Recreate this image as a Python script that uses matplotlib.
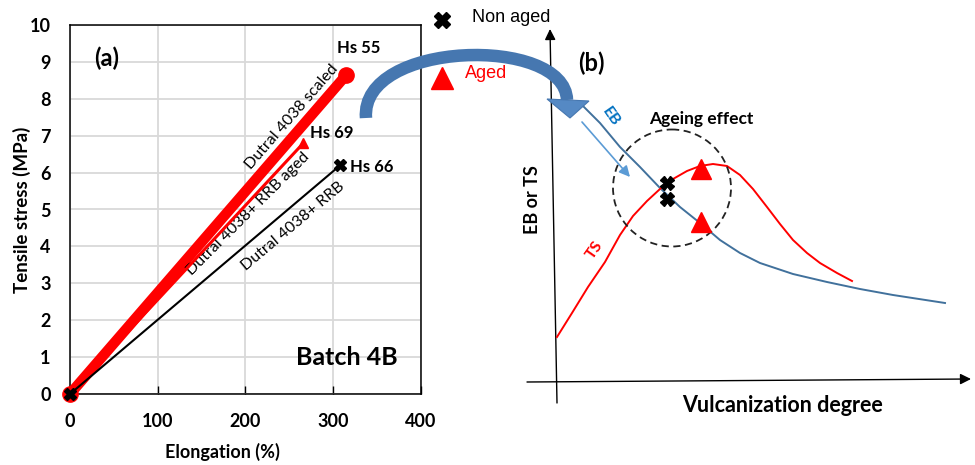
import matplotlib.pyplot as plt
from matplotlib.patches import Ellipse, PathPatch, Polygon
from matplotlib.path import Path

# panel (a): elongation (%) vs tensile stress (MPa)
scaled_x = [0, 315]
scaled_y = [0, 8.65]
rrb_aged_x = [0, 266]
rrb_aged_y = [0, 6.8]
rrb_x = [0, 308]
rrb_y = [0, 6.2]

hs_labels = ['Hs 55', 'Hs 69', 'Hs 66']
hs_x = [304, 273, 319]
hs_y = [9.38, 7.07, 6.15]

x_ticks = [0, 100, 200, 300, 400]
y_ticks = list(range(11))

# panel (b): schematic, read in picture pixels
eb_x = [580, 600, 620, 640, 660, 680, 700, 720, 740, 760, 793, 827, 860,
        893, 945]
eb_y = [103, 123, 147, 167, 188, 207, 223, 240, 253, 263, 274, 282, 289,
        295, 303]
ts_x = [557, 572, 588, 605, 620, 633, 647, 660, 673, 687, 700, 713, 727,
        740, 753, 767, 780, 793, 807, 820, 837, 852]
ts_y = [337, 313, 287, 262, 235, 216, 201, 189, 179, 171, 166, 164, 166,
        175, 189, 207, 224, 240, 253, 263, 273, 281]
non_aged_x = [667, 667]
non_aged_y = [183, 199]
aged_x = [701, 701]
aged_y = [169, 222]

CAL = 'Lato'
ARL = 'Liberation Sans'
BLUE = '#41719c'
RED = '#ff0000'

fig = plt.figure(figsize=(9.75, 4.65), dpi=100)

# ---------- panel (a)
ax = fig.add_axes([70 / 975, 71 / 465, 351 / 975, 369 / 465])
ax.plot(scaled_x, scaled_y, color=RED, lw=7.5, marker='o', ms=11,
        solid_capstyle='butt', zorder=3, clip_on=False)
ax.plot(rrb_aged_x, rrb_aged_y, color=RED, lw=2.2, marker='^', ms=7,
        zorder=4, clip_on=False)
ax.plot(rrb_x, rrb_y, color='black', lw=1.5, marker='X', ms=8,
        zorder=5, clip_on=False)

ax.set_xlim(0, 400)
ax.set_ylim(0, 10)
ax.set_xticks(x_ticks)
ax.set_yticks(y_ticks)
ax.grid(True, color='#d9d9d9', lw=1.3)
ax.set_axisbelow(True)
ax.tick_params(axis='x', direction='in', length=6, width=1, pad=14)
ax.tick_params(axis='y', length=0, pad=14)
for lab in ax.get_xticklabels() + ax.get_yticklabels():
    lab.set_fontfamily(CAL)
    lab.set_fontweight('bold')
    lab.set_fontsize(13)
for sp in ax.spines.values():
    sp.set_linewidth(1.1)
ax.set_xlabel('Elongation (%)', family=CAL, weight='bold', fontsize=13)
ax.set_ylabel('Tensile stress (MPa)', family=CAL, weight='bold',
              fontsize=13.5)
ax.xaxis.set_label_coords((222 - 70) / 351, (394 - 452) / 369)
ax.yaxis.set_label_coords((22 - 70) / 351, 0.5)
ax.xaxis.label.set_va('center')
ax.yaxis.label.set_va('center')

for lab, x, y in zip(hs_labels, hs_x, hs_y):
    ax.text(x, y, lab, family=CAL, weight='bold', fontsize=12,
            ha='left', va='center')
ax.text(28, 9.1, '(a)', family=CAL, weight='bold', fontsize=17,
        ha='left', va='center')
ax.text(373, 1.0, 'Batch 4B', family=CAL, weight='bold', fontsize=18,
        ha='right', va='center')
ax.text(253, 7.5, 'Dutral 4038 scaled', family=CAL, fontsize=11.5,
        rotation=49, rotation_mode='anchor', ha='center', va='center')
ax.text(203, 4.88, 'Dutral 4038+ RRB aged', family=CAL, fontsize=11.5,
        rotation=45, rotation_mode='anchor', ha='center', va='center')
ax.text(254, 4.55, 'Dutral 4038+ RRB', family=CAL, fontsize=11.5,
        rotation=40, rotation_mode='anchor', ha='center', va='center')

# ---------- overlay in picture pixels: panel (b) and connecting arrow
ov = fig.add_axes([0, 0, 1, 1], facecolor='none')
ov.set_xlim(0, 975)
ov.set_ylim(465, 0)
ov.axis('off')

# big curved arrow from (a) to (b)
band = Path([(366, 118), (360, 40), (565, 35), (567, 100)],
            [Path.MOVETO, Path.CURVE4, Path.CURVE4, Path.CURVE4])
ov.add_patch(PathPatch(band, fill=False, ec='#4677b0', lw=9,
                       capstyle='butt', zorder=6))
ov.add_patch(Polygon([(547, 99), (589, 101), (570, 118)], closed=True,
                     fc='#5589c4', ec='#4677b0', lw=0.8, zorder=6))

# axes of the schematic
ov.annotate('', xy=(550, 29), xytext=(557, 403),
            arrowprops=dict(arrowstyle='-|>', color='black', lw=1,
                            mutation_scale=16, shrinkA=0, shrinkB=0))
ov.annotate('', xy=(971, 379), xytext=(527, 382),
            arrowprops=dict(arrowstyle='-|>', color='black', lw=1,
                            mutation_scale=16, shrinkA=0, shrinkB=0))

ov.plot(eb_x, eb_y, color=BLUE, lw=1.4, zorder=3)
ov.plot(ts_x, ts_y, color=RED, lw=1.4, zorder=3)

ov.add_patch(Ellipse((672, 188), 118, 117, fill=False, ec='#222222',
                     lw=1.3, ls=(0, (4, 2.5)), zorder=4))

ov.plot(non_aged_x, non_aged_y, ls='none', marker='X', ms=10,
        color='black', zorder=5)
ov.plot(aged_x, aged_y, ls='none', marker='^', ms=15, color=RED, zorder=5)

ov.annotate('', xy=(630, 177), xytext=(582, 122),
            arrowprops=dict(arrowstyle='-|>', color='#5b9bd5', lw=1.2,
                            mutation_scale=16, shrinkA=0, shrinkB=0))

# legend of markers
ov.plot([442], [20], ls='none', marker='X', ms=11, color='black')
ov.plot([442], [78], ls='none', marker='^', ms=16, color=RED)
ov.text(472, 17, 'Non aged', family=ARL, fontsize=13, ha='left',
        va='center')
ov.text(465, 73, 'Aged', family=ARL, fontsize=13, color=RED, ha='left',
        va='center')

ov.text(591, 63, '(b)', family=CAL, weight='bold', fontsize=17,
        ha='center', va='center')
ov.text(701, 119, 'Ageing effect', family=CAL, weight='bold', fontsize=12.5,
        ha='center', va='center')
ov.text(611, 117, 'EB', family=CAL, weight='bold', fontsize=11.5,
        color='#0070c0', rotation=-55, ha='center', va='center')
ov.text(595, 250, 'TS', family=CAL, weight='bold', fontsize=11.5,
        color=RED, rotation=55, ha='center', va='center')
ov.text(533, 200, 'EB or TS', family=CAL, weight='bold', fontsize=13,
        rotation=90, ha='center', va='center')
ov.text(782, 405, 'Vulcanization degree', family=CAL, weight='bold',
        fontsize=15.5, ha='center', va='center')

fig.savefig('out.png', dpi=100)
